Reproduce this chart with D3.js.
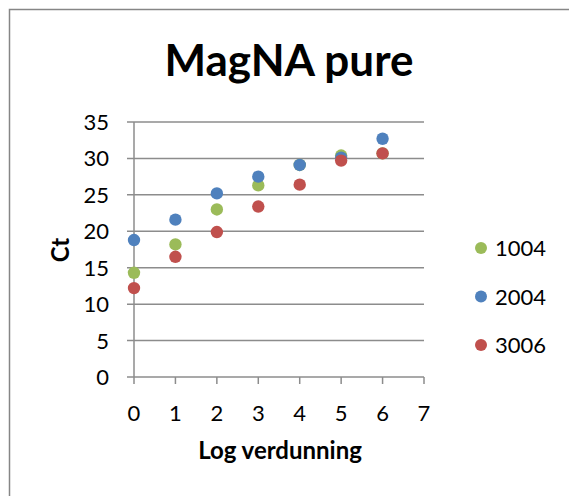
<!DOCTYPE html>
<html>
<head>
<meta charset="utf-8">
<script src="https://cdn.jsdelivr.net/npm/d3@7"></script>
<style>
  body { margin: 0; background: #fff; }
  svg { display: block; }
</style>
</head>
<body>
<svg id="chart" width="569" height="496"></svg>
<script>
// log dilution steps and Ct values
var dilutions = [0, 1, 2, 3, 4, 5, 6];
var seriesNames = ["1004", "2004", "3006"];
var ct1004 = [14.3, 18.2, 23.0, 26.3, 29.1, 30.4, 30.7];
var ct2004 = [18.8, 21.6, 25.2, 27.5, 29.1, 30.1, 32.7];
var ct3006 = [12.2, 16.5, 19.9, 23.4, 26.4, 29.7, 30.7];
var xTicks = [0, 1, 2, 3, 4, 5, 6, 7];
var yTicks = [0, 5, 10, 15, 20, 25, 30, 35];

var colors = ["#9BBB59", "#4F81BD", "#C0504D"];
var fontFam = "Lato, 'Open Sans', sans-serif";

var svg = d3.select("#chart");

// outer chart border (runs off the right and bottom)
svg.append("rect")
  .attr("x", 9.5)
  .attr("y", 9.5)
  .attr("width", 700)
  .attr("height", 700)
  .style("fill", "#fff")
  .style("stroke", "#868686")
  .style("stroke-width", 1.5);

var x = d3.scaleLinear().domain([0, 7]).range([134, 424]);
var y = d3.scaleLinear().domain([0, 35]).range([377, 122]);

// horizontal grid lines
svg.append("g")
  .selectAll("line")
  .data(yTicks)
  .join("line")
  .attr("x1", x(0) - 7)
  .attr("x2", x(7))
  .attr("y1", d => y(d))
  .attr("y2", d => y(d))
  .style("stroke", "#8c8c8c")
  .style("stroke-width", 1.5);

// y axis line
svg.append("line")
  .attr("x1", x(0)).attr("x2", x(0))
  .attr("y1", y(35)).attr("y2", y(0))
  .style("stroke", "#8c8c8c")
  .style("stroke-width", 1.5);

// x tick marks
svg.append("g")
  .selectAll("line")
  .data(xTicks)
  .join("line")
  .attr("x1", d => x(d))
  .attr("x2", d => x(d))
  .attr("y1", y(0))
  .attr("y2", y(0) + 7)
  .style("stroke", "#8c8c8c")
  .style("stroke-width", 1.5);

// y tick labels
svg.append("g")
  .selectAll("text")
  .data(yTicks)
  .join("text")
  .attr("x", 109)
  .attr("y", d => y(d) + 8)
  .attr("text-anchor", "end")
  .style("font-family", fontFam)
  .style("font-size", "22px")
  .style("fill", "#000")
  .text(d => d);

// x tick labels
svg.append("g")
  .selectAll("text")
  .data(xTicks)
  .join("text")
  .attr("x", d => x(d))
  .attr("y", 421)
  .attr("text-anchor", "middle")
  .style("font-family", fontFam)
  .style("font-size", "22px")
  .style("fill", "#000")
  .text(d => d);

// title
svg.append("text")
  .attr("x", 289)
  .attr("y", 76)
  .attr("text-anchor", "middle")
  .style("font-family", fontFam)
  .style("font-weight", "bold")
  .style("font-size", "44px")
  .text("MagNA pure");

// axis titles
svg.append("text")
  .attr("x", 280)
  .attr("y", 459)
  .attr("text-anchor", "middle")
  .style("font-family", fontFam)
  .style("font-weight", "bold")
  .style("font-size", "24px")
  .text("Log verdunning");

svg.append("text")
  .attr("transform", "translate(69,250) rotate(-90)")
  .attr("text-anchor", "middle")
  .style("font-family", fontFam)
  .style("font-weight", "bold")
  .style("font-size", "24px")
  .text("Ct");

// points, 1004 first so 3006 sits on top
var allSeries = [ct1004, ct2004, ct3006];
allSeries.forEach(function (vals, i) {
  svg.append("g")
    .selectAll("circle")
    .data(vals)
    .join("circle")
    .attr("cx", (d, j) => x(dilutions[j]))
    .attr("cy", d => y(d))
    .attr("r", 6.2)
    .style("fill", colors[i]);
});

// legend
var legend = svg.append("g")
  .selectAll("g")
  .data(seriesNames)
  .join("g")
  .attr("transform", (d, i) => `translate(481, ${248 + i * 48.5})`);

legend.append("circle")
  .attr("r", 6)
  .style("fill", (d, i) => colors[i]);

legend.append("text")
  .attr("x", 14)
  .attr("y", 8)
  .style("font-family", fontFam)
  .style("font-size", "22px")
  .text(d => d);
</script>
</body>
</html>
